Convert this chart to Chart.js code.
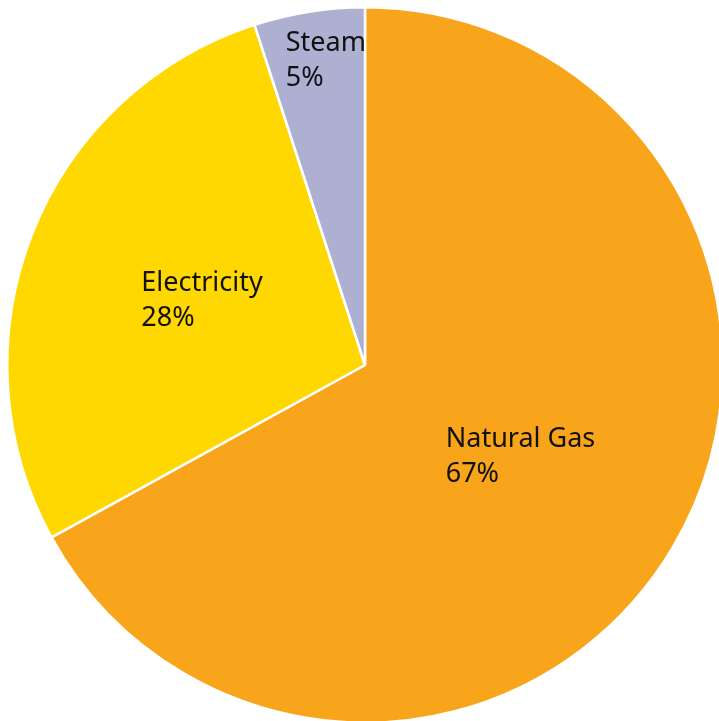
<!DOCTYPE html>
<html>
<head>
<meta charset="utf-8">
<title>Energy Use by Source</title>
<script src="https://cdn.jsdelivr.net/npm/chart.js@4/dist/chart.umd.min.js"></script>
<style>
    html, body { margin: 0; padding: 0; background: #fff; overflow: hidden; }
    #wrap { position: absolute; left: 0; top: 0; width: 730px; height: 730px; }
</style>
</head>
<body>
<div id="wrap"><canvas id="energyPie"></canvas></div>
<script>
// Energy sources and their share of the total (percent)
const sources = ['Natural Gas', 'Electricity', 'Steam'];
const shares = [67, 28, 5];
const sliceColors = ['#F8A51C', '#FED800', '#ADB0D1'];

// Where each label block sits: fraction of radius along the slice's mid angle, plus a nudge
const labelPlacement = [
    { r: 0.505, dx: 0, dy: 0 },
    { r: 0.49, dx: 0, dy: 0 },
    { r: 0.86, dx: 9, dy: 0 }
];

// Draws "Name / NN%" inside each slice, left aligned in a centred block
const sliceLabels = {
    id: 'sliceLabels',
    afterDatasetsDraw(chart) {
        const ctx = chart.ctx;
        const meta = chart.getDatasetMeta(0);
        ctx.save();
        ctx.font = '27px "Noto Sans", sans-serif';
        ctx.fillStyle = '#111';
        ctx.textAlign = 'left';
        ctx.textBaseline = 'middle';
        meta.data.forEach((arc, i) => {
            const p = arc.getProps(['x', 'y', 'startAngle', 'endAngle', 'outerRadius'], true);
            const mid = (p.startAngle + p.endAngle) / 2;
            const place = labelPlacement[i];
            const cx = p.x + Math.cos(mid) * p.outerRadius * place.r + place.dx;
            const cy = p.y + Math.sin(mid) * p.outerRadius * place.r + place.dy;
            const lines = [sources[i], shares[i] + '%'];
            const w = Math.max(...lines.map(t => ctx.measureText(t).width));
            const lineH = 35;
            // keep the text inside its own slice
            ctx.save();
            ctx.beginPath();
            ctx.moveTo(p.x, p.y);
            ctx.arc(p.x, p.y, p.outerRadius, p.startAngle, p.endAngle);
            ctx.closePath();
            ctx.clip();
            lines.forEach((t, k) => {
                ctx.fillText(t, cx - w / 2, cy + (k - 0.5) * lineH);
            });
            ctx.restore();
        });
        ctx.restore();
    }
};

new Chart(document.getElementById('energyPie'), {
    type: 'pie',
    data: {
        labels: sources,
        datasets: [{
            data: shares,
            backgroundColor: sliceColors,
            borderColor: '#ffffff',
            borderWidth: 2.5
        }]
    },
    options: {
        responsive: true,
        maintainAspectRatio: false,
        animation: false,
        layout: { padding: 6 },
        plugins: {
            legend: { display: false },
            tooltip: { enabled: false }
        }
    },
    plugins: [sliceLabels]
});
</script>
</body>
</html>
